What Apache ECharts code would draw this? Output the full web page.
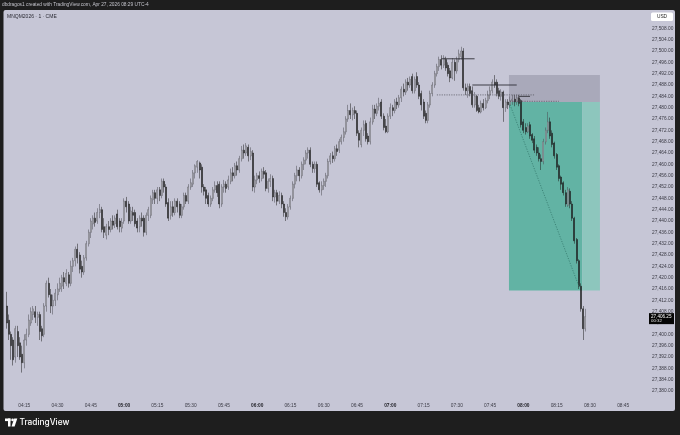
<!DOCTYPE html>
<html><head><meta charset="utf-8">
<script src="https://cdn.jsdelivr.net/npm/echarts@6/dist/echarts.min.js"></script>
<style>html,body{margin:0;padding:0;background:#1e1e1e}#c{width:680px;height:435px}</style>
</head><body><div id="c"></div>
<script>
// ---- data ----
const startMinute = 4 * 60 + 7;   // 04:07
const endMinute = 8 * 60 + 55;    // 08:55 (axis extends past last bar)
const priceTicks = { min: 27376, max: 27516, step: 4, firstLabel: 27380, lastLabel: 27508 };
const lastPrice = 27406.25;
const countdown = '00:32';
// one-minute candles, [open, high, low, close]
const candles = [
[27410,27415,27402,27404],[27405,27407,27398,27400],[27400,27401,27391,27396],[27398,27399,27389,27391],
[27392,27403,27390,27402],[27401,27403,27392,27396],[27397,27399,27391,27392],[27393,27396,27386.5,27390],
[27390,27400,27388,27398],[27398,27402,27396,27400],[27400,27407,27399,27405],[27404,27409.5,27403,27408],
[27407,27410,27405,27409],[27408,27410,27404,27406],[27406,27408,27403,27407],[27407,27408,27398,27401],
[27402,27403,27397.5,27399.5],[27400,27411,27399,27410],[27410,27419,27408,27418],[27418,27420,27413,27414],
[27414,27416,27407.5,27410],[27410,27414,27407,27412],[27412,27416,27410,27414.5],[27414,27418,27412,27416],
[27416,27420,27415,27418],[27417,27421,27415,27420],[27420,27422,27416,27418.5],[27418,27423,27417,27421.5],
[27421,27422,27416.5,27418],[27418,27426,27417,27424],[27424,27427,27422,27426],[27426,27431,27424,27430],
[27430,27432,27425,27427],[27428,27429,27421.5,27423],[27424,27426,27420,27422],[27422,27428,27421,27427],
[27427,27433,27426,27432],[27432,27437,27431,27436],[27436,27441,27434,27440],[27439,27442,27437,27441],
[27441,27443,27438,27439.5],[27440,27444.5,27439,27443],[27443,27446,27441,27444],[27444,27445,27436,27437],
[27438,27441,27434,27436],[27435,27439,27433.5,27438],[27438,27440,27435,27437],[27437,27441,27436,27440],
[27440,27442,27437,27438.5],[27439,27442,27437.5,27441],[27442.5,27444,27437,27438],[27440,27441,27436,27438],
[27437.5,27441,27436,27439.5],[27440,27448,27439,27447],[27447,27448.5,27443,27445],[27446,27447,27439,27440],
[27440,27445,27439,27443.5],[27443,27445,27440,27442],[27443,27444,27438,27439],[27440,27441,27436,27437.5],
[27438,27442,27436,27441],[27441,27443,27438,27440],[27441,27442,27434.5,27436],[27436,27443,27435,27442],
[27442,27445,27440,27444],[27442,27449,27441,27448],[27447.5,27451,27446,27450],[27450,27451,27446,27448],
[27448,27452,27446,27451],[27451,27452,27447,27449],[27449,27455,27448,27454],[27454,27455,27450,27452],
[27452,27453,27445,27446],[27446.5,27448,27440,27441],[27442,27447,27440.5,27445],[27445,27447,27441.5,27443],
[27443,27448,27442,27447],[27447,27448,27443,27445],[27446,27447,27441,27442],[27442,27446,27441,27445],
[27445,27450,27444,27449],[27449,27450,27446,27447],[27447,27453,27446,27452],[27452,27455,27451,27453.5],
[27453,27458,27452,27457],[27457,27460,27455,27459.5],[27459,27461.5,27457,27461],[27460.5,27461,27455,27458],
[27459,27460,27450,27452],[27452,27453,27449,27450.5],[27451,27452,27446,27448],[27449,27450,27445,27446],
[27446,27449,27445,27448],[27448,27452,27447,27451],[27451,27454,27450,27452.5],[27452.5,27454,27448.5,27450],
[27453,27454,27444.5,27446],[27446,27453,27445,27452],[27452,27454.5,27450,27453],[27453,27454,27450,27451.5],
[27452,27456,27451,27454.5],[27454,27458.5,27453,27457],[27457,27459,27454,27456],[27456,27460.5,27455,27459.5],
[27459.5,27461,27456,27458],[27458,27463,27457,27462],[27462,27466.5,27461,27465],[27465,27467,27462,27464],
[27464,27467.5,27463,27466.5],[27466,27467,27461,27463],[27463,27466,27461.5,27464.5],[27464,27465,27450.5,27452],
[27452,27456,27450,27454.5],[27454.5,27457,27453,27456],[27456,27457.5,27453.5,27455],[27455,27458.5,27454,27457.5],
[27457.5,27459,27455,27456.5],[27457,27458,27450.5,27451.5],[27451.5,27455,27450,27454],[27454,27456.5,27452,27455],
[27455,27456,27447,27448.5],[27448.5,27451,27446.5,27450],[27450,27451,27445.5,27447],[27447,27450.5,27446,27449],
[27449,27450,27444.5,27446],[27446,27447,27441.5,27443],[27443,27444.5,27440,27441.5],[27441.5,27446,27440.5,27445],
[27445,27449,27444,27448],[27448,27454,27447,27453],[27453,27457,27451.5,27456],[27456,27459.5,27454,27458],
[27458,27459,27454,27456],[27456,27461,27455,27460],[27460,27462.5,27458,27461.5],[27461.5,27465,27460,27464],
[27464,27466,27462,27465],[27465,27466,27459,27460],[27460,27461,27457,27458.5],[27458.5,27461,27457,27460],
[27460,27461,27452,27453],[27453.5,27454,27450,27451],[27451,27454,27449,27452.5],[27452.5,27455,27451,27454],
[27454,27457,27452,27456],[27456,27462,27455,27461],[27461,27464,27460,27463],[27463,27464.5,27460.5,27462],
[27462,27466.5,27461,27465.5],[27465.5,27467,27463,27464.5],[27465,27469,27464,27468],[27468,27470.5,27467,27469.5],
[27469.5,27473,27468,27471.5],[27471.5,27477,27470.5,27476],[27476,27481,27475,27479],[27479,27481.5,27476,27477.5],
[27477.5,27480,27475.5,27479],[27479,27480.5,27476,27478],[27478,27479,27470,27471],[27471,27472,27466,27468.5],
[27467,27473,27466,27472],[27472,27475.5,27470,27474],[27474.5,27475.5,27468,27469],[27470,27471,27467,27468],
[27468,27476.5,27467,27475],[27475,27481,27474,27479.5],[27479.5,27481,27476,27478],[27478,27481.5,27477,27480.5],
[27480.5,27483.5,27479,27481.5],[27482,27483,27476,27477],[27477,27478,27472,27473],[27473.5,27476,27471,27471.5],
[27471.5,27478,27471,27477],[27477,27481.5,27476,27480],[27480,27481,27477,27479],[27479,27483,27478,27482],
[27482,27483.5,27479.5,27481],[27481,27484.5,27480,27483.5],[27483.5,27487.5,27482,27486.5],[27486.5,27488.5,27484,27485.5],
[27485.5,27490,27484.5,27489],[27489,27490.5,27486,27488],[27488,27491,27487,27490],[27491,27492,27485,27486],
[27486,27491,27485,27490],[27491,27492.5,27487,27488],[27488,27489,27483,27484],[27485,27486,27479,27481],
[27482,27483,27476,27477],[27478,27479,27474.5,27475.5],[27475.5,27482,27474.5,27481],[27481,27486,27480,27485],
[27485,27489,27484,27488],[27488,27493,27487,27492],[27492,27495.5,27491,27494.5],[27494.5,27498,27493,27497],
[27497,27498.5,27493.5,27495],[27495,27498.5,27494,27497.5],[27497,27498,27493,27494],[27495,27496,27491,27492],
[27493,27494,27489,27490.5],[27490.5,27497.5,27490,27496],[27496,27497,27489.5,27493],[27493,27498,27492,27497],
[27497,27500.5,27496,27499],[27498,27501.5,27497,27500],[27500,27501,27486,27487],[27487,27488.5,27484.5,27486],
[27486,27488.5,27483.5,27487.5],[27487.5,27488.5,27484,27485],[27486,27487.5,27480,27481],[27481,27485.5,27480,27484],
[27484,27484.5,27478.5,27479],[27480,27481,27478,27478.5],[27478.5,27482.5,27478,27481.5],[27481.5,27483,27479,27480],
[27480,27483.5,27479.5,27482.5],[27482.5,27486,27481.5,27484.5],[27484.5,27487.5,27483,27486],[27486,27490,27485,27489],
[27489,27491.5,27487,27488],[27489,27490,27484,27485],[27486,27487,27483,27484],[27484,27486.5,27482.5,27485.5],
[27485.5,27486,27475,27480],[27480,27483,27478.5,27482],[27482,27483,27479.5,27481],[27481,27484,27480,27482.5],
[27482.5,27484.5,27481,27483],[27483,27484.5,27480.5,27482],[27482,27484.5,27481,27483.5],[27483.5,27484.5,27480.5,27481.5],
[27482.5,27483,27473,27474],[27475,27476,27471,27472],[27473,27474.5,27470.5,27471.5],[27471.5,27474.5,27471,27473.5],
[27474,27475,27469,27470],[27470.5,27471,27467.5,27468.5],[27469,27470,27464,27465],[27466,27467,27463,27464],
[27464,27466,27461,27462],[27462,27463.5,27458,27461],[27461,27469,27460,27468],[27468,27473,27467,27472],
[27472,27478.5,27471,27475],[27475,27476.5,27469,27470],[27471,27472,27466,27467],[27467.5,27468,27462,27463],
[27463.5,27464,27458,27459],[27459.5,27460,27454,27455],[27455.5,27456,27451,27453],[27453.5,27454,27449,27450],
[27450,27451,27445,27446],[27445.5,27452,27445,27451],[27450.5,27451.5,27444.5,27446],[27446,27447,27440,27441],
[27441,27441.5,27432,27433],[27433.5,27434,27425,27426],[27426,27426.5,27416,27417],[27417,27418,27408,27409],
[27409,27410,27398,27402],[27402,27409,27401,27406.25]
];
// short-position tool: [from time (band start), to time (band start), low price, high price]
const stopZone = ['07:54', '08:35', 27482, 27491.5];
const targetZoneFilled = ['07:54', '08:27', 27415.5, 27482];
const targetZoneRest = ['08:27', '08:35', 27415.5, 27482];
// drawn lines: [time1, price1, time2, price2]
const solidLines = [
  ['07:23', 27497.25, '07:38', 27497.25],
  ['07:37', 27488, '07:57', 27488],
  ['07:58', 27484, '08:03', 27484]
];
const dottedLines = [
  ['07:21', 27484.5, '08:05', 27484.5],
  ['07:54', 27482.25, '08:16', 27482.25]
];
const diagonalLine = ['07:54', 27481, '08:25', 27417];

// ---- build ----
const pad = n => (n < 10 ? '0' : '') + n;
const categories = [];
for (let m = startMinute; m <= endMinute; m++) categories.push(pad(Math.floor(m / 60)) + ':' + pad(m % 60));
const idx = t => categories.indexOf(t);
const kData = candles.map(([o, h, l, c]) => [o, c, l, h]);
const FONT = '"Liberation Sans", Arial, sans-serif';
const fmt = v => v.toLocaleString('en-US', { minimumFractionDigits: 2, maximumFractionDigits: 2 });

const zoneStyles = ['#a9a9ba', '#62b3a4', '#8dc6bd'];
const zoneData = [stopZone, targetZoneFilled, targetZoneRest].map(z => [idx(z[0]), idx(z[1]), z[2], z[3]]);
const lineData = [
  ...solidLines.map(l => [idx(l[0]), idx(l[2]), l[1], l[3], 0]),
  ...dottedLines.map(l => [idx(l[0]), idx(l[2]), l[1], l[3], 1]),
  [idx(diagonalLine[0]), idx(diagonalLine[2]), diagonalLine[1], diagonalLine[3], 2]
];

const chart = echarts.init(document.getElementById('c'), null, { renderer: 'canvas' });
const option = {
  animation: false,
  backgroundColor: '#1e1e1e',
  grid: { left: 5.4, right: 33.5, top: 5.67, height: 396.67, containLabel: false },
  xAxis: {
    type: 'category', data: categories, boundaryGap: true,
    axisLine: { show: false }, axisTick: { show: false }, splitLine: { show: false },
    axisLabel: {
      interval: (i, v) => (+v.slice(3)) % 15 === 0,
      formatter: v => v.endsWith(':00') ? '{b|' + v + '}' : v,
      fontSize: 4.8, color: '#3a3a44', margin: 0.8, fontFamily: FONT,
      rich: { b: { fontWeight: 'bold', fontSize: 4.8, color: '#1e1e24', fontFamily: FONT } }
    }
  },
  yAxis: {
    type: 'value', position: 'right', scale: true,
    min: priceTicks.min, max: priceTicks.max, interval: priceTicks.step,
    axisLine: { show: false }, axisTick: { show: false }, splitLine: { show: false },
    axisLabel: {
      margin: 5.5, fontSize: 4.8, color: '#3a3a44', fontFamily: FONT,
      formatter: v => (v < priceTicks.firstLabel || v > priceTicks.lastLabel) ? '' : fmt(v)
    }
  },
  series: [
    {
      type: 'custom', z: 1, clip: false,
      encode: { x: [0, 1], y: [2, 3] },
      data: zoneData,
      renderItem: (params, api) => {
        const w = api.size([1, 0])[0];
        const a = api.coord([api.value(0), api.value(3)]);
        const b = api.coord([api.value(1), api.value(2)]);
        return { type: 'rect', shape: { x: a[0] - w / 2, y: a[1], width: b[0] - a[0], height: b[1] - a[1] },
          style: { fill: zoneStyles[params.dataIndex] } };
      }
    },
    {
      type: 'candlestick', z: 2, data: kData, barWidth: 1.5,
      itemStyle: { color: '#f2f2f6', color0: '#1c1c1c', borderColor: '#4a4a52', borderColor0: '#1c1c1c', borderWidth: 0.5 }
    },
    {
      type: 'custom', z: 3, clip: false,
      encode: { x: [0, 1], y: [2, 3] },
      data: lineData,
      renderItem: (params, api) => {
        const kind = api.value(4);
        const a = api.coord([api.value(0), api.value(2)]);
        const b = api.coord([api.value(1), api.value(3)]);
        const style = kind === 0 ? { stroke: '#2e2e36', lineWidth: 0.9 } :
          kind === 1 ? { stroke: '#4e4e58', lineWidth: 0.7, lineDash: [1.2, 1.2] } :
          { stroke: '#35796d', lineWidth: 0.8, lineDash: [1.2, 1.4] };
        return { type: 'line', shape: { x1: a[0], y1: a[1], x2: b[0], y2: b[1] }, style };
      }
    }
  ]
};
chart.setOption(option);

const py = chart.convertToPixel({ yAxisIndex: 0 }, lastPrice);
chart.setOption({
  graphic: [
    { type: 'rect', z: -10, silent: true, shape: { x: 3.5, y: 10, width: 671.5, height: 401, r: 2 }, style: { fill: '#c6c6d6' } },
    { type: 'text', z: 10, x: 2, y: 5, style: { text: 'dbdragos1 created with TradingView.com, Apr 27, 2026 08:29 UTC-4', fontSize: 4.8, fill: '#c4c4cc', fontFamily: FONT, verticalAlign: 'middle' } },
    { type: 'text', z: 10, x: 7, y: 16.5, style: { text: 'MNQM2026 · 1 · CME', fontSize: 5, fill: '#2a2a33', fontFamily: FONT, verticalAlign: 'middle' } },
    { type: 'rect', z: 100, shape: { x: 651, y: 12.5, width: 22, height: 8.5, r: 1.5 }, style: { fill: '#ffffff' } },
    { type: 'text', z: 101, x: 662, y: 16.8, style: { text: 'USD', fontSize: 4.8, fill: '#222', fontFamily: FONT, align: 'center', verticalAlign: 'middle' } },
    { type: 'rect', z: 100, shape: { x: 649, y: py - 3.5, width: 25, height: 11 }, style: { fill: '#050505' } },
    { type: 'text', z: 101, x: 651, y: py, style: { text: fmt(lastPrice), fontSize: 4.6, fill: '#ffffff', fontFamily: FONT, verticalAlign: 'middle' } },
    { type: 'text', z: 101, x: 651, y: py + 4.6, style: { text: countdown, fontSize: 4.4, fill: '#e0e0e0', fontFamily: FONT, verticalAlign: 'middle' } },
    { type: 'rect', z: 10, shape: { x: 5, y: 418.5, width: 5.5, height: 2.6 }, style: { fill: '#fff' } },
    { type: 'rect', z: 10, shape: { x: 8, y: 418.5, width: 2.5, height: 8 }, style: { fill: '#fff' } },
    { type: 'circle', z: 10, shape: { cx: 12.6, cy: 419.9, r: 1.35 }, style: { fill: '#fff' } },
    { type: 'polygon', z: 10, shape: { points: [[14.2, 418.5], [17.3, 418.5], [14.6, 426.5], [11.5, 426.5]] }, style: { fill: '#fff' } },
    { type: 'text', z: 10, x: 19.5, y: 422.6, style: { text: 'TradingView', fontSize: 8.3, fill: '#ffffff', fontFamily: 'Inter, Roboto, sans-serif', fontWeight: 500, verticalAlign: 'middle' } }
  ]
});
</script></body></html>
